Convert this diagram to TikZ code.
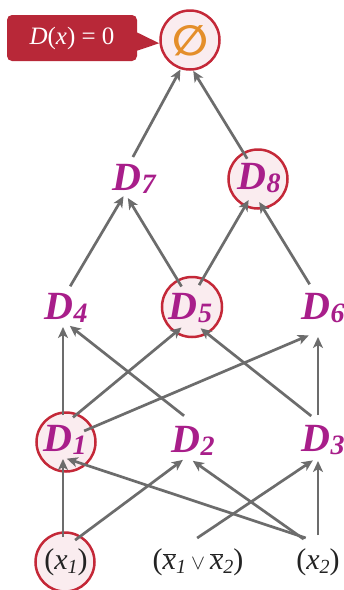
\RequirePackage{fix-cm}
\documentclass[tikz,border=0pt]{standalone}
\usepackage{graphicx}
\usepackage{fontspec}
\setmainfont{Liberation Serif}
\newfontfamily\djv{DejaVu Sans}
\usetikzlibrary{arrows.meta,backgrounds}
\definecolor{dmag}{RGB}{168,30,138}
\definecolor{hlred}{RGB}{196,40,56}
\definecolor{hlfill}{RGB}{250,236,239}
\definecolor{calloutcol}{RGB}{184,40,56}
\definecolor{setorange}{RGB}{228,142,42}
\definecolor{edgecol}{RGB}{108,108,108}
\definecolor{xtext}{RGB}{35,35,35}
\newcommand{\lbl}[3]{\smash{\makebox[0pt]{\hspace*{#1}\hspace*{#1}\raisebox{#2}{#3}}}}
\newcommand{\Dt}[1]{\color{dmag}\fontsize{40}{40}\selectfont\bfseries\itshape D\kern0.5pt\raisebox{-3pt}{\fontsize{28}{28}\selectfont #1}}
\newcommand{\Xt}[1]{\color{xtext}\fontsize{30}{30}\selectfont #1}
\newcommand{\xsub}[1]{\raisebox{-4pt}{\fontsize{20}{20}\selectfont\itshape #1}}
\newcommand{\ovx}{$\overline{\mbox{\itshape x}}$}
\begin{document}
\begin{tikzpicture}[x=1pt,y=-1pt,
  anc/.style={circle,inner sep=0pt,outer sep=0pt,minimum size=#1},
  edge/.style={draw=edgecol,line width=2.7pt,-{Stealth[length=11pt,width=10pt,inset=3pt]}},
  hl/.style={draw=hlred,fill=hlfill,line width=2.5pt},
  callout/.style={fill=calloutcol,rounded corners=5pt,minimum width=130pt,minimum height=46pt,inner sep=0pt,text=white,font=\fontsize{25}{25}\selectfont}]
\useasboundingbox (0,0) rectangle (344,590);
% nodes
\node[anc=62pt] (E) at (190,40) {\lbl{0pt}{-15pt}{\color{setorange}\fontsize{42}{42}\selectfont\djv\bfseries ∅}};
\node[anc=42pt] (D7) at (134,178) {\lbl{0pt}{-12.25pt}{\Dt{7}}};
\node[anc=46pt] (D8) at (258,179) {\lbl{1pt}{-10.25pt}{\Dt{8}}};
\node[anc=42pt] (D4) at (63,306) {\lbl{3pt}{-13.25pt}{\Dt{4}}};
\node[anc=46pt] (D5) at (192,307) {\lbl{-1.5pt}{-12.75pt}{\Dt{5}}};
\node[anc=54pt] (D6) at (318,310) {\lbl{5pt}{-9.25pt}{\Dt{6}}};
\node[anc=44pt] (D1) at (63,437) {\lbl{2pt}{-14.75pt}{\Dt{1}}};
\node[anc=46pt] (D2) at (190,438) {\lbl{3pt}{-14.25pt}{\Dt{2}}};
\node[anc=46pt] (D3) at (318,438) {\lbl{5pt}{-13.25pt}{\Dt{3}}};
\node[anc=50pt] (X1) at (63,562) {\lbl{3pt}{-7pt}{\Xt{(\textit{x}\xsub{1})}}};
\node[anc=48pt] (C) at (198,562) {\lbl{0pt}{-7pt}{\Xt{(\ovx\xsub{1}\,{\fontsize{21}{21}\selectfont$\vee$}\,\ovx\xsub{2})}}};
\node[anc=54pt] (X2) at (318,562) {\lbl{0pt}{-7pt}{\Xt{(\textit{x}\xsub{2})}}};
% callout
\node[callout] (CO) at (72,38) {\textit{D}(\textit{x}) = 0};
\fill[calloutcol] ([xshift=-1pt,yshift=6pt]CO.east) -- (E.186) -- ([xshift=-1pt,yshift=-13pt]CO.east) -- cycle;
% highlight circles
\begin{pgfonlayer}{background}
 \fill[white] (0,0) rectangle (344,590);
 \draw[hl] (E.center) circle[radius=29.5pt];
 \draw[hl] (D8.center) circle[radius=29.5pt];
 \draw[hl] (D5.center) circle[radius=30pt];
 \draw[hl] ([shift={(3pt,-5pt)}]D1.center) circle[radius=29.5pt];
 \draw[hl] ([shift={(2pt,0pt)}]X1.center) circle[radius=29.5pt];
\end{pgfonlayer}
% edges
\draw[edge] (X1.90) -- (D1.-90);
\draw[edge] (X1.61) -- (D2.-108);
\draw[edge] (C.92) -- (D3.-103);
\draw[edge] (X2.117) -- (D1.-80);
\draw[edge] (X2.122) -- (D2.-83);
\draw[edge] (X2.90) -- (D3.-90);
\draw[edge] (D1.90) -- (D4.-90);
\draw[edge] (D1.63) -- (D5.-117);
\draw[edge] (D1.16) -- (D6.-110);
\draw[edge] (D2.105) -- (D4.-71);
\draw[edge] (D3.107) -- (D5.-68);
\draw[edge] (D3.90) -- (D6.-90);
\draw[edge] (D4.70) -- (D7.-120);
\draw[edge] (D5.117) -- (D7.-107);
\draw[edge] (D5.72) -- (D8.-114);
\draw[edge] (D6.108) -- (D8.-87);
\draw[edge] (D7.93) -- (E.-108);
\draw[edge] (D8.118) -- (E.-84);
\end{tikzpicture}
\end{document}
